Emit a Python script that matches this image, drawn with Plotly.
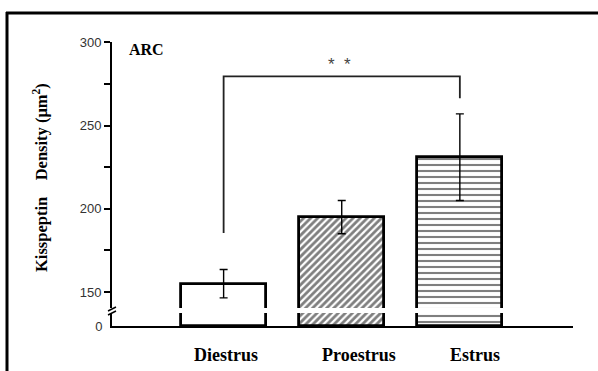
import plotly.graph_objects as go

# ---- data ----
categories = ["Diestrus", "Proestrus", "Estrus"]
means = [155.0, 195.0, 231.0]
errors = [8.5, 10.0, 26.0]
patterns = ["", "/", "-"]
y_ticks_upper = [150, 200, 250, 300]
y_minor_upper = [175, 225, 275]
y_ticks_lower = [0]
bracket_y = 279.6
bracket_left_bottom = 185.4
bracket_right_bottom = 266.4

# ---- geometry (pixels) ----
W, H = 598, 371
L, R = 112, 573          # plot area x
T, B = 42, 326           # plot area y
PW, PH = R - L, B - T

def px(xp):
    return (xp - L) / PW

def py(yp):
    return (B - yp) / PH

x_pos = [0, 1, 2]
x_range = [-0.945, 2.958]
bar_w = 0.72

fig = go.Figure()

for i, (c, m, e, p) in enumerate(zip(categories, means, errors, patterns)):
    marker = dict(color="white", line=dict(color="black", width=2.8))
    if p:
        marker["pattern"] = dict(shape=p, fgcolor="black", bgcolor="white",
                                 size=5 if p == "/" else 6,
                                 solidity=0.55 if p == "/" else 0.35,
                                 fillmode="overlay")
    # upper section (with error bars)
    fig.add_trace(go.Bar(x=[x_pos[i]], y=[m], width=bar_w, marker=marker,
                         error_y=dict(type="data", array=[e], color="black",
                                      thickness=1.4, width=4),
                         xaxis="x", yaxis="y2", showlegend=False))
    # lower section (below the break)
    fig.add_trace(go.Bar(x=[x_pos[i]], y=[m], width=bar_w, marker=marker,
                         xaxis="x", yaxis="y", showlegend=False))

# significance bracket
fig.add_trace(go.Scatter(x=[x_pos[0], x_pos[0], x_pos[2], x_pos[2]],
                         y=[bracket_left_bottom, bracket_y, bracket_y, bracket_right_bottom],
                         mode="lines", line=dict(color="#222", width=1.8),
                         xaxis="x", yaxis="y2", showlegend=False, hoverinfo="skip"))

upper_bottom = 300 - (308 - T) / (250 / 150)
tickfont = dict(family="Liberation Sans, Arial", size=13, color="#333")

fig.update_layout(
    width=W, height=H,
    margin=dict(l=L, r=W - R, t=T, b=H - B),
    paper_bgcolor="white", plot_bgcolor="white",
    bargap=0,
    xaxis=dict(range=x_range, anchor="y", domain=[0, 1], showticklabels=False,
               ticks="", showgrid=False, zeroline=False, showline=True,
               linecolor="black", linewidth=2),
    yaxis=dict(domain=[0, py(313)], range=[0, 10], tickvals=y_ticks_lower,
               ticks="outside", ticklen=5, tickcolor="rgba(0,0,0,0)",
               showgrid=False, zeroline=False, showline=True,
               linecolor="black", linewidth=2, anchor="x", tickfont=tickfont),
    yaxis2=dict(domain=[py(308), 1], range=[upper_bottom, 300.2], tickvals=y_ticks_upper,
                ticks="outside", ticklen=6, tickwidth=1.5, tickcolor="black",
                minor=dict(tickvals=y_minor_upper, ticks="outside", ticklen=6,
                           tickwidth=1.5, tickcolor="black"),
                showgrid=False, zeroline=False, showline=True,
                linecolor="black", linewidth=2, anchor="x", tickfont=tickfont),
)

shapes = []
# axis break marks
for dy in (0, 4):
    shapes.append(dict(type="line", xref="paper", yref="paper",
                       x0=px(108), y0=py(311 + dy), x1=px(116), y1=py(307 + dy),
                       line=dict(color="black", width=1.5)))
# outer border (top and left edges visible)
shapes.append(dict(type="line", xref="paper", yref="paper",
                   x0=px(6), y0=py(13), x1=px(610), y1=py(13),
                   line=dict(color="black", width=3)))
shapes.append(dict(type="line", xref="paper", yref="paper",
                   x0=px(7), y0=py(12), x1=px(7), y1=py(380),
                   line=dict(color="black", width=3)))
fig.update_layout(shapes=shapes)

serif = "Liberation Serif, Times New Roman, serif"
ann = []
ann.append(dict(text="<b>ARC</b>", xref="paper", yref="paper", x=px(127), y=py(50),
                xanchor="left", yanchor="middle", showarrow=False,
                font=dict(family=serif, size=16, color="black")))
ann.append(dict(text="<b>Kisspeptin\u00a0\u00a0\u00a0\u00a0Density (\u03bcm<sup>2</sup>)</b>",
                xref="paper", yref="paper", x=px(40), y=py(178), textangle=-90,
                xanchor="center", yanchor="middle", showarrow=False,
                font=dict(family=serif, size=16.5, color="black")))
ann.append(dict(text="*\u00a0\u00a0*", xref="x", yref="y2", x=0.98, y=286.5,
                showarrow=False, font=dict(family="Liberation Sans, Arial", size=17, color="#444")))
label_shift = [2, 17, 15]
for i, c in enumerate(categories):
    ann.append(dict(text="<b>" + c + "</b>", xref="x", yref="paper", x=x_pos[i],
                    xshift=label_shift[i], y=py(355), xanchor="center", yanchor="middle",
                    showarrow=False, font=dict(family=serif, size=18, color="black")))
fig.update_layout(annotations=ann)

fig.write_html("out.html")
